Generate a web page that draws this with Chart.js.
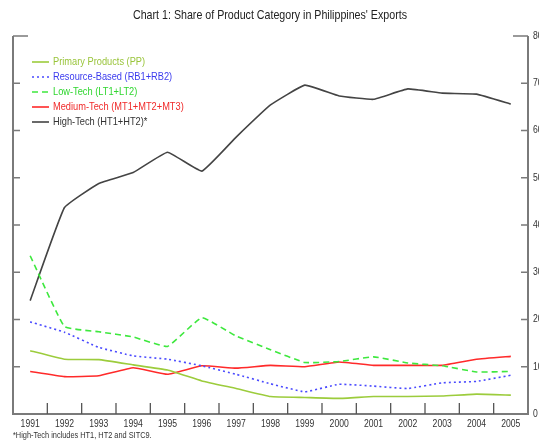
<!DOCTYPE html>
<html><head><meta charset="utf-8">
<script src="https://cdn.jsdelivr.net/npm/chart.js@4.4.1/dist/chart.umd.min.js"></script>
<style>html,body{margin:0;padding:0;background:#fff;overflow:hidden}#wrap{width:539px;height:444px}</style>
</head><body><div id="wrap"><canvas id="c" width="539" height="444"></canvas></div>
<script>
const years = ['1991','1992','1993','1994','1995','1996','1997','1998','1999','2000','2001','2002','2003','2004','2005'];
const primaryProducts = [13.4,11.6,11.5,10.4,9.3,7.0,5.4,3.7,3.5,3.3,3.7,3.7,3.8,4.2,4.0];
const resourceBased = [19.5,17.3,14.1,12.3,11.6,10.2,8.4,6.4,4.7,6.3,5.9,5.4,6.6,6.9,8.2];
const lowTech = [33.5,18.5,17.4,16.3,14.3,20.4,16.5,13.6,10.9,11.1,12.1,10.8,10.2,8.9,9.0];
const mediumTech = [9.0,7.9,8.1,9.8,8.4,10.2,9.7,10.3,10.0,11.0,10.3,10.3,10.3,11.6,12.2];
const highTech = [24.0,43.7,48.8,51.1,55.4,51.4,58.6,65.4,69.6,67.3,66.6,68.8,67.9,67.7,65.6];
const yTickValues = [0,10,20,30,40,50,60,70,80];
const seriesNames = ['Primary Products (PP)','Resource-Based (RB1+RB2)','Low-Tech (LT1+LT2)','Medium-Tech (MT1+MT2+MT3)','High-Tech (HT1+HT2)*'];
const titleText = "Chart 1: Share of Product Category in Philippines' Exports";
const footnoteText = '*High-Tech includes HT1, HT2 and SITC9.';

const FONT = "'Liberation Sans', Arial, sans-serif";
const NARROW = 0.82;

function narrowText(ctx, text, x, y, size, align, color) {
  ctx.save();
  ctx.translate(x, y);
  ctx.scale(NARROW, 1);
  ctx.font = size + 'px ' + FONT;
  ctx.textAlign = align;
  ctx.textBaseline = 'middle';
  ctx.fillStyle = color;
  ctx.fillText(text, 0, 0);
  ctx.restore();
}

const textPlugin = {
  id: 'texts',
  afterDraw(chart) {
    const ctx = chart.ctx;
    const a = chart.chartArea;
    const xs = chart.scales.x, ys = chart.scales.y;
    narrowText(ctx, titleText, 270, 15, 13, 'center', '#222');
    narrowText(ctx, footnoteText, 13, 436, 9, 'left', '#333');
    // axis tick labels
    xs.ticks.forEach((t, i) => {
      narrowText(ctx, xs.getLabelForValue(t.value), xs.getPixelForTick(i), a.bottom + 10, 10.5, 'center', '#333');
    });
    ys.ticks.forEach(t => {
      narrowText(ctx, String(t.value), a.right + 5, ys.getPixelForValue(t.value), 10.5, 'left', '#333');
    });
    // legend
    chart.data.datasets.forEach((d, i) => {
      const y = 62 + i * 15;
      ctx.save();
      ctx.strokeStyle = d.borderColor;
      ctx.lineWidth = 1.6;
      ctx.setLineDash(d.borderDash || []);
      ctx.beginPath();
      ctx.moveTo(32, y);
      ctx.lineTo(49, y);
      ctx.stroke();
      ctx.restore();
      narrowText(ctx, d.label, 53, y, 11.3, 'left', d.legendTextColor);
    });
  }
};

const framePlugin = {
  id: 'frame',
  beforeDatasetsDraw(chart) {
    const ctx = chart.ctx;
    const a = chart.chartArea;
    const xs = chart.scales.x, ys = chart.scales.y;
    ctx.save();
    ctx.strokeStyle = '#7a7a7a';
    ctx.lineWidth = 2;
    ctx.beginPath();
    ctx.moveTo(a.left, a.top); ctx.lineTo(a.left, a.bottom); ctx.lineTo(a.right, a.bottom); ctx.lineTo(a.right, a.top);
    ctx.stroke();
    ctx.lineWidth = 1.6;
    yTickValues.forEach(v => {
      const y = ys.getPixelForValue(v);
      if (v === 0) return;
      const len = v === 80 ? 15 : 7;
      ctx.beginPath();
      ctx.moveTo(a.left, y); ctx.lineTo(a.left + len, y);
      ctx.moveTo(a.right, y); ctx.lineTo(a.right - len, y);
      ctx.stroke();
    });
    ctx.strokeStyle = '#555';
    ctx.lineWidth = 1.3;
    for (let i = 1; i < years.length; i++) {
      const x = (xs.getPixelForValue(i - 1) + xs.getPixelForValue(i)) / 2;
      ctx.beginPath();
      ctx.moveTo(x, a.bottom); ctx.lineTo(x, a.bottom - 11);
      ctx.stroke();
    }
    ctx.restore();
  }
};

function ds(label, data, color, textColor, dash) {
  return { label, data, borderColor: color, legendTextColor: textColor, borderDash: dash, borderWidth: 1.6,
    pointRadius: 0, pointHoverRadius: 0, fill: false, tension: 0.1, borderCapStyle: 'butt' };
}

new Chart(document.getElementById('c'), {
  type: 'line',
  data: {
    labels: years,
    datasets: [
      ds(seriesNames[0], primaryProducts, '#9ccc3c', '#99c43a', []),
      ds(seriesNames[1], resourceBased, '#4a4aff', '#3a3aee', [2, 3]),
      ds(seriesNames[2], lowTech, '#3ee83e', '#2fd62f', [6, 4]),
      ds(seriesNames[3], mediumTech, '#ff2a2a', '#f02a2a', []),
      ds(seriesNames[4], highTech, '#444444', '#333333', [])
    ]
  },
  options: {
    responsive: false,
    devicePixelRatio: 1,
    animation: false,
    layout: { padding: { left: 13, top: 36, right: 0, bottom: 0 } },
    plugins: { legend: { display: false }, title: { display: false }, tooltip: { enabled: false } },
    scales: {
      x: {
        type: 'category', offset: true,
        grid: { display: false, drawTicks: false, offset: true },
        border: { display: false },
        ticks: { display: false, autoSkip: false },
        afterFit(s) { s.height = 30; }
      },
      y: {
        position: 'right', min: 0, max: 80,
        afterBuildTicks(s) { s.ticks = yTickValues.map(v => ({ value: v })); },
        grid: { display: false, drawTicks: false },
        border: { display: false },
        ticks: { display: false },
        afterFit(s) { s.width = 11; }
      }
    }
  },
  plugins: [framePlugin, textPlugin]
});
</script></body></html>
